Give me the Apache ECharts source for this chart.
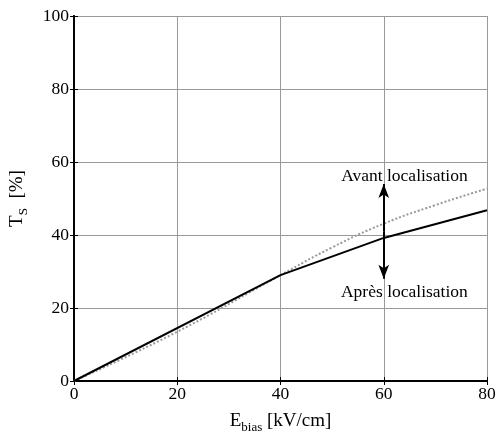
<!DOCTYPE html>
<html>
<head>
<meta charset="utf-8">
<script src="https://cdn.jsdelivr.net/npm/echarts@6/dist/echarts.min.js"></script>
<style>html,body{margin:0;padding:0;background:#fff}#c{width:496px;height:435px}</style>
</head>
<body>
<div id="c"></div>
<script>
// Data
const xValues = [0, 40, 60, 80];
const apresValues = [0, 29, 39.2, 46.8];
const xValuesAvant = [0, 20, 40, 50, 60, 70, 80];
const avantValues = [0, 13.5, 29, 36.6, 43.1, 48.2, 52.7];
const xTicks = [0, 20, 40, 60, 80];
const yTicks = [0, 20, 40, 60, 80, 100];
const arrowX = 60, arrowMid = 41, arrowTop = 54, arrowBottom = 28;
const labelAvant = {text: 'Avant localisation', x: 64, y: 56};
const labelApres = {text: 'Après localisation', x: 64, y: 24.3};

const FONT = "'Liberation Serif','Times New Roman',serif";
const chart = echarts.init(document.getElementById('c'), null, {renderer: 'canvas'});

const frameLine = {show: true, lineStyle: {color: '#000', width: 1.8}};
const tickIn = {show: true, inside: true, length: 4, lineStyle: {color: '#000', width: 1}};
const richName = {
  n: {fontFamily: FONT, fontSize: 19, color: '#000', lineHeight: 26, verticalAlign: 'middle'},
  s: {fontFamily: FONT, fontSize: 13, color: '#000', lineHeight: 13, verticalAlign: 'bottom'}
};

chart.setOption({
  animation: false,
  backgroundColor: '#fff',
  grid: {left: 74, right: 9, top: 16, bottom: 54, containLabel: false, outerBoundsMode: 'none'},
  xAxis: [{
    type: 'value', min: xTicks[0], max: xTicks[xTicks.length-1], interval: 20,
    axisLine: frameLine, axisTick: tickIn,
    axisLabel: {color: '#000', fontFamily: FONT, fontSize: 17.5, margin: 4},
    splitLine: {show: true, lineStyle: {color: '#9a9a9a', type: 'solid', width: 1}},
    name: '{n|E}{s|bias}{n| [kV/cm]}', nameLocation: 'middle', nameGap: 27,
    nameTextStyle: {rich: richName}
  }, {
    type: 'value', position: 'top', min: 0, max: 80, interval: 20,
    axisLine: frameLine, axisTick: tickIn, axisLabel: {show: false}, splitLine: {show: false}
  }],
  yAxis: [{
    type: 'value', min: yTicks[0], max: yTicks[yTicks.length-1], interval: 20,
    axisLine: frameLine, axisTick: tickIn,
    axisLabel: {color: '#000', fontFamily: FONT, fontSize: 17.5, margin: 5},
    splitLine: {show: true, lineStyle: {color: '#9a9a9a', type: 'solid', width: 1}},
    name: '{n|T}{s|S}{n|  [%]}', nameLocation: 'middle', nameGap: 44, nameRotate: 90,
    nameTextStyle: {rich: richName}
  }, {
    type: 'value', position: 'right', min: 0, max: 100, interval: 20,
    axisLine: frameLine, axisTick: tickIn, axisLabel: {show: false}, splitLine: {show: false}
  }],
  series: [{
    name: 'Avant', type: 'line', symbol: 'none', smooth: true,
    data: xValuesAvant.map((x, i) => [x, avantValues[i]]),
    lineStyle: {color: '#999', width: 2, type: [2, 2]}, z: 3
  }, {
    name: 'Apres', type: 'line', symbol: 'none',
    data: xValues.map((x, i) => [x, apresValues[i]]),
    lineStyle: {color: '#000', width: 2}, z: 4,
    markLine: {
      silent: true, symbol: ['none', 'arrow'], symbolSize: [8, 14], animation: false,
      lineStyle: {color: '#000', width: 2, type: 'solid'}, label: {show: false},
      data: [
        [{coord: [arrowX, arrowMid]}, {coord: [arrowX, arrowTop]}],
        [{coord: [arrowX, arrowMid]}, {coord: [arrowX, arrowBottom]}]
      ]
    },
    markPoint: {
      silent: true, symbol: 'circle', symbolSize: 0,
      label: {show: true, position: 'inside', color: '#000', fontFamily: FONT, fontSize: 17.5,
        formatter: p => p.name},
      data: [
        {name: labelAvant.text, coord: [labelAvant.x, labelAvant.y]},
        {name: labelApres.text, coord: [labelApres.x, labelApres.y]}
      ]
    }
  }]
});
</script>
</body>
</html>
